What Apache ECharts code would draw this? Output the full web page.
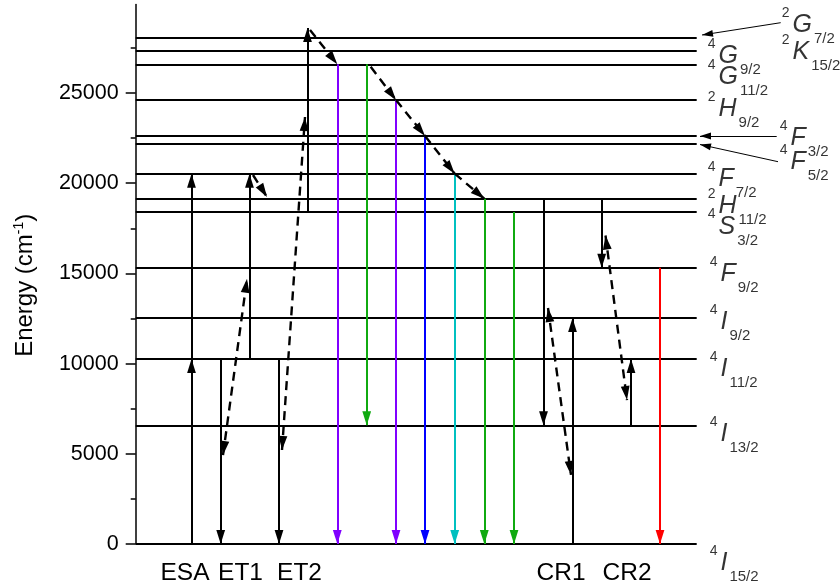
<!DOCTYPE html>
<html><head><meta charset="utf-8">
<script src="https://cdn.jsdelivr.net/npm/echarts@6/dist/echarts.min.js"></script>
<style>html,body{margin:0;padding:0;background:#fff}#c{width:840px;height:588px}</style>
</head><body><div id="c"></div>
<script>
// ---- DATA ----
// Er3+ energy levels (cm^-1)
const levelEnergy = [0, 6580, 10250, 12530, 15320, 18400, 19140, 20530, 22210, 22620, 24610, 26590, 27350, 28070];

// Term symbols: superscript, letter, subscript, level index they belong to
const termSup    = ['4','4','4','4','4','4','2','4','4','4','2','4','4','2','2'];
const termLetter = ['I','I','I','I','F','S','H','F','F','F','H','G','G','G','K'];
const termSub    = ['15/2','13/2','11/2','9/2','9/2','3/2','11/2','7/2','5/2','3/2','9/2','11/2','9/2','7/2','15/2'];
const termLevel  = [0,1,2,3,4,5,6,7,8,9,10,11,12,13,12];

// Y axis ticks
const yMajorTicks = [0, 5000, 10000, 15000, 20000, 25000];
const yMinorTicks = [2500, 7500, 12500, 17500, 22500, 27500];

// Process labels along the bottom and their horizontal slot
const processNames = ['ESA', 'ET1', 'ET2', 'CR1', 'CR2'];
const processSlot  = [49.3, 104.8, 163.8, 425.3, 491.3];

// Solid black transitions [slot, fromE, toE]
const solidTransitions = [
  [55.8, 0, 10250], [55.8, 10250, 20530],
  [85, 10250, 0], [113.8, 10250, 20530],
  [143.3, 10250, 0], [171.8, 18400, 28600],
  [407.8, 19140, 6580], [436.8, 0, 12530],
  [466, 19140, 15320], [495.3, 6580, 10250]
];

// Dashed energy-transfer links (arrows both ends) [slot1, E1, slot2, E2]
const transferLinks = [
  [87.3, 4930, 111.3, 14700],
  [146.3, 5210, 169.3, 23670],
  [412.3, 13080, 435.3, 3830],
  [469.8, 17100, 491.3, 7980]
];

// Dashed non-radiative relaxations [slot1, E1, slot2, E2]
const relaxations = [
  [117.3, 20455, 131.3, 19235],
  [174.3, 28490, 201.6, 26590],
  [235, 26450, 260.3, 24610],
  [260.3, 24610, 289.3, 22620],
  [289.3, 22620, 319, 20530],
  [319, 20530, 348.6, 19140]
];

// Radiative emissions [slot, fromE, toE]
const emissions = [
  [201.6, 26590, 0], [231, 26590, 6580], [260.3, 24610, 0], [289.3, 22620, 0],
  [319, 20530, 0], [348.6, 19140, 0], [378.3, 18400, 0], [524.3, 15320, 0]
];

// Annotation pointers for crowded labels [slot1, E1, slot2, E2]
const pointers = [
  [645, 28897, 566.3, 28215],
  [641, 22620, 564.3, 22620],
  [642.3, 21192, 564.3, 22145]
];

// ---- STYLE / LAYOUT ----
const emissionColors = ['#8000FF', '#10AA10', '#8000FF', '#0000FF', '#00C0C0', '#10AA10', '#10AA10', '#FF0000'];
const termOffset = [[13,19],[13,9],[13,10],[13,4],[13,6.3],[11,14.5],[11,7.3],[11,5.3],[83,18.7],[83,2],[11,9],[11,12.7],[11,5.3],[85,-12.7],[85,1.3]];
const X_MAX = 561;
const FONT = 'Liberation Sans';
const arrowPath = 'path://M-14,-14L-14,-14M14,14L14,14M0,0L4.4,14L-4.4,14Z';

function seg(x1, y1, x2, y2, extra) { return Object.assign({ coords: [[x1, y1], [x2, y2]] }, extra || {}); }

const chart = echarts.init(document.getElementById('c'), null, { renderer: 'canvas' });

const baseLines = { type: 'lines', coordinateSystem: 'cartesian2d', xAxisIndex: 0, yAxisIndex: 0, silent: true, animation: false, polyline: false };

const option = {
  animation: false,
  backgroundColor: '#fff',
  grid: { left: 135.7, right: 143.3, top: 4.6, bottom: 44, containLabel: false, outerBoundsMode: 'none' },
  xAxis: {
    type: 'value', min: 0, max: X_MAX,
    axisLine: { show: false }, axisTick: { show: false }, splitLine: { show: false },
    axisLabel: {
      show: true, customValues: processSlot, margin: 17,
      formatter: v => { const i = processSlot.indexOf(v); return i >= 0 ? processNames[i] : ''; },
      color: '#000', fontSize: 24.5, fontFamily: FONT
    }
  },
  yAxis: [{
    type: 'value', min: 0, max: 29900, interval: 5000,
    axisLine: { show: true, lineStyle: { color: '#000', width: 1.5 } },
    axisTick: { show: true, inside: false, length: 10, customValues: yMajorTicks, lineStyle: { color: '#000', width: 1.5 } },
    axisLabel: { show: true, customValues: yMajorTicks, margin: 17, color: '#000', fontSize: 21.5, fontFamily: FONT,
      formatter: v => String(v) },
    splitLine: { show: false },
    name: 'Energy (cm{s|-1})', nameLocation: 'middle', nameRotate: 90, nameGap: 96,
    nameTextStyle: { color: '#000', fontSize: 24, fontFamily: FONT, padding: [0, 22, 0, 0],
      rich: { s: { fontSize: 14, fontFamily: FONT, color: '#000', padding: [0, 0, 14, 0] } } }
  }, {
    type: 'value', min: 0, max: 29900, position: 'left',
    axisLine: { show: false },
    axisTick: { show: true, inside: false, length: 5, customValues: yMinorTicks, lineStyle: { color: '#000', width: 1.5 } },
    axisLabel: { show: false }, splitLine: { show: false }
  }],
  series: [
    Object.assign({}, baseLines, {
      name: 'levels', symbol: ['none', 'none'],
      lineStyle: { color: '#000', width: 2, opacity: 1 },
      data: levelEnergy.map(e => seg(0, e, X_MAX, e))
    }),
    Object.assign({}, baseLines, {
      name: 'emissions', symbol: ['none', arrowPath], symbolSize: 28,
      lineStyle: { color: '#000', width: 2, opacity: 1 },
      data: emissions.map((t, i) => seg(t[0], t[1], t[0], t[2], { lineStyle: { color: emissionColors[i], width: 2, opacity: 1 } }))
    }),
    Object.assign({}, baseLines, {
      name: 'solid', symbol: ['none', arrowPath], symbolSize: 28,
      lineStyle: { color: '#000', width: 2, opacity: 1 },
      data: solidTransitions.map(t => seg(t[0], t[1], t[0], t[2]))
    }),
    Object.assign({}, baseLines, {
      name: 'transfer', symbol: [arrowPath, arrowPath], symbolSize: 28,
      lineStyle: { color: '#000', width: 2.4, opacity: 1, type: [9, 6] },
      data: transferLinks.map(t => seg(t[0], t[1], t[2], t[3]))
    }),
    Object.assign({}, baseLines, {
      name: 'relax', symbol: ['none', arrowPath], symbolSize: 28,
      lineStyle: { color: '#000', width: 2.4, opacity: 1, type: [9, 6] },
      data: relaxations.map(t => seg(t[0], t[1], t[2], t[3]))
    }),
    Object.assign({}, baseLines, {
      name: 'pointers', symbol: ['none', arrowPath], symbolSize: 22, clip: false,
      lineStyle: { color: '#000', width: 1, opacity: 1 },
      data: pointers.map(t => seg(t[0], t[1], t[2], t[3]))
    }),
    {
      type: 'scatter', name: 'terms', symbolSize: 0, silent: true, clip: false, animation: false,
      data: termLevel.map((lv, i) => ({
        value: [X_MAX, levelEnergy[lv]],
        label: {
          show: true, position: 'right', distance: 0, offset: termOffset[i],
          formatter: '{p|' + termSup[i] + '}{m|' + termLetter[i] + '}{b|' + termSub[i] + '}'
        }
      })),
      label: {
        color: '#000', fontFamily: FONT,
        rich: {
          p: { fontSize: 14, fontFamily: FONT, color: '#000', padding: [0, 0, 24, 0] },
          m: { fontSize: 25, fontFamily: FONT, fontStyle: 'italic', color: '#000', padding: [0, 0, 0, 3] },
          b: { fontSize: 15, fontFamily: FONT, color: '#000', padding: [28, 0, 0, 2] }
        }
      }
    }
  ]
};
chart.setOption(option);
</script>
</body></html>
